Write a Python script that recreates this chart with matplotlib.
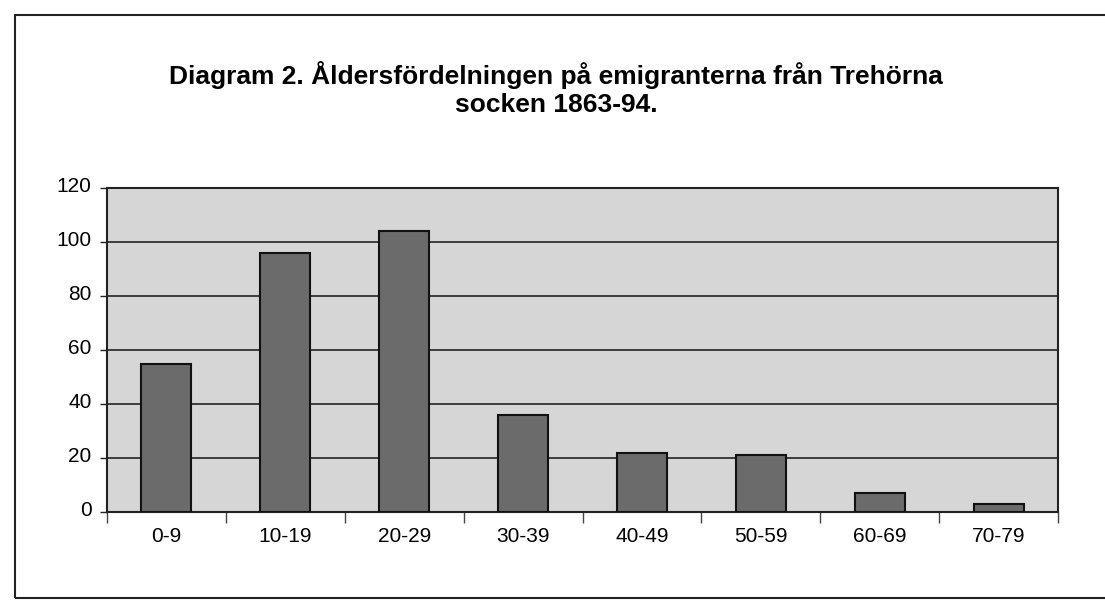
import matplotlib
matplotlib.use("Agg")
import matplotlib.pyplot as plt
from matplotlib.patches import Rectangle
from matplotlib.transforms import ScaledTranslation
import numpy as np

categories = ["0-9", "10-19", "20-29", "30-39", "40-49", "50-59", "60-69", "70-79"]
values = [55, 96, 104, 36, 22, 21, 7, 3]
yticks = [0, 20, 40, 60, 80, 100, 120]
title = "Diagram 2. Åldersfördelningen på emigranterna från Trehörna\nsocken 1863-94."

plt.rcParams['font.family'] = ['Liberation Sans', 'DejaVu Sans']

fig = plt.figure(figsize=(11.05, 6.01), dpi=100)
fig.patch.set_facecolor("white")

# outer chart frame
fig.patches.append(Rectangle((15/1105, 3/601), 1.2, 583/601, transform=fig.transFigure,
                             fill=False, edgecolor="#222222", linewidth=1.5))

ax = fig.add_axes([107/1105, 1-512/601, 951/1105, 324/601])
ax.set_facecolor("#d6d6d6")
x = np.arange(len(categories))
ax.bar(x, values, width=0.42, color="#6b6b6b", edgecolor="#111111", linewidth=1.5, zorder=3)

ax.set_xlim(-0.5, len(categories) - 0.5)
ax.set_ylim(0, 120)
ax.set_yticks(yticks)
ax.set_yticklabels([str(v) for v in yticks], fontsize=15)
ax.yaxis.grid(True, color="#222222", linewidth=1.2, zorder=1)
ax.set_axisbelow(True)

ax.set_xticks(x)
ax.set_xticklabels(categories, fontsize=15)
ax.tick_params(axis='x', which='major', length=0, pad=11)
ax.set_xticks(np.arange(-0.5, len(categories), 1), minor=True)
ax.tick_params(axis='x', which='minor', length=8, width=1, color="#444444", direction='out')
ax.tick_params(axis='y', length=5, width=1, color="#222222", pad=6)

shift = ScaledTranslation(0, 4/100, fig.dpi_scale_trans)
for lbl in ax.get_yticklabels():
    lbl.set_transform(lbl.get_transform() + shift)

for s in ax.spines.values():
    s.set_color("#222222")
    s.set_linewidth(1.5)

fig.text(556/1105, 1-89/601, title, ha="center", va="center", fontsize=19,
         fontweight="bold", linespacing=1.25)

fig.savefig("out.png", dpi=100, facecolor="white")
